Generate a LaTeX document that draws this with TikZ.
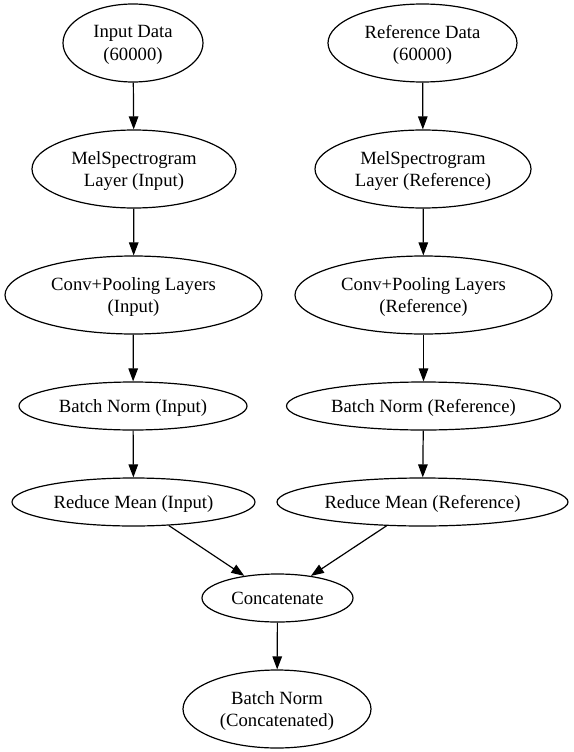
\documentclass[tikz,border=0pt]{standalone}
\usepackage{fontspec}
\setmainfont{Liberation Serif}
\usetikzlibrary{shapes.geometric,arrows.meta}

\tikzset{layer/.style={ellipse, draw, inner sep=0pt, align=center, text depth=0pt}}

\begin{document}
\begin{tikzpicture}[x=1pt, y=-1pt, line width=1.2pt,
  >={Triangle[length=13pt,width=9.5pt]},
  font=\fontsize{18.67}{22.4}\selectfont]
\useasboundingbox (0,0) rectangle (573,752);

% input branch
\node (in) at (133,43) [layer, minimum width=140, minimum height=78] {Input Data\\(60000)};
	\node (melin) at (134,169) [layer, minimum width=204, minimum height=78] {MelSpectrogram\\Layer (Input)} edge[<-] (in);
	\node (convin) at (133.5,295) [layer, minimum width=257, minimum height=78] {Conv+Pooling Layers\\(Input)} edge[<-] (melin);
	\node (bnin) at (133,406) [layer, minimum width=228, minimum height=48] {Batch Norm (Input)} edge[<-] (convin);
	\node (rmin) at (133.5,502) [layer, minimum width=243, minimum height=48] {Reduce Mean (Input)} edge[<-] (bnin);

% reference branch
\node (ref) at (422.5,43) [layer, minimum width=189, minimum height=78] {Reference Data\\(60000)};
	\node (melref) at (423,169) [layer, minimum width=216, minimum height=78] {MelSpectrogram\\Layer (Reference)} edge[<-] (ref);
	\node (convref) at (423.5,295) [layer, minimum width=257, minimum height=78] {Conv+Pooling Layers\\(Reference)} edge[<-] (melref);
	\node (bnref) at (423.5,406) [layer, minimum width=274, minimum height=48] {Batch Norm (Reference)} edge[<-] (convref);
	\node (rmref) at (422.5,502) [layer, minimum width=291, minimum height=48] {Reduce Mean (Reference)} edge[<-] (bnref);

% merge
\node (cat) at (277.5,598) [layer, minimum width=151, minimum height=48] {Concatenate} edge[<-] (rmin) edge[<-] (rmref);
	\node (bncat) at (277,709) [layer, minimum width=188, minimum height=78] {Batch Norm\\(Concatenated)} edge[<-] (cat);

\end{tikzpicture}
\end{document}
